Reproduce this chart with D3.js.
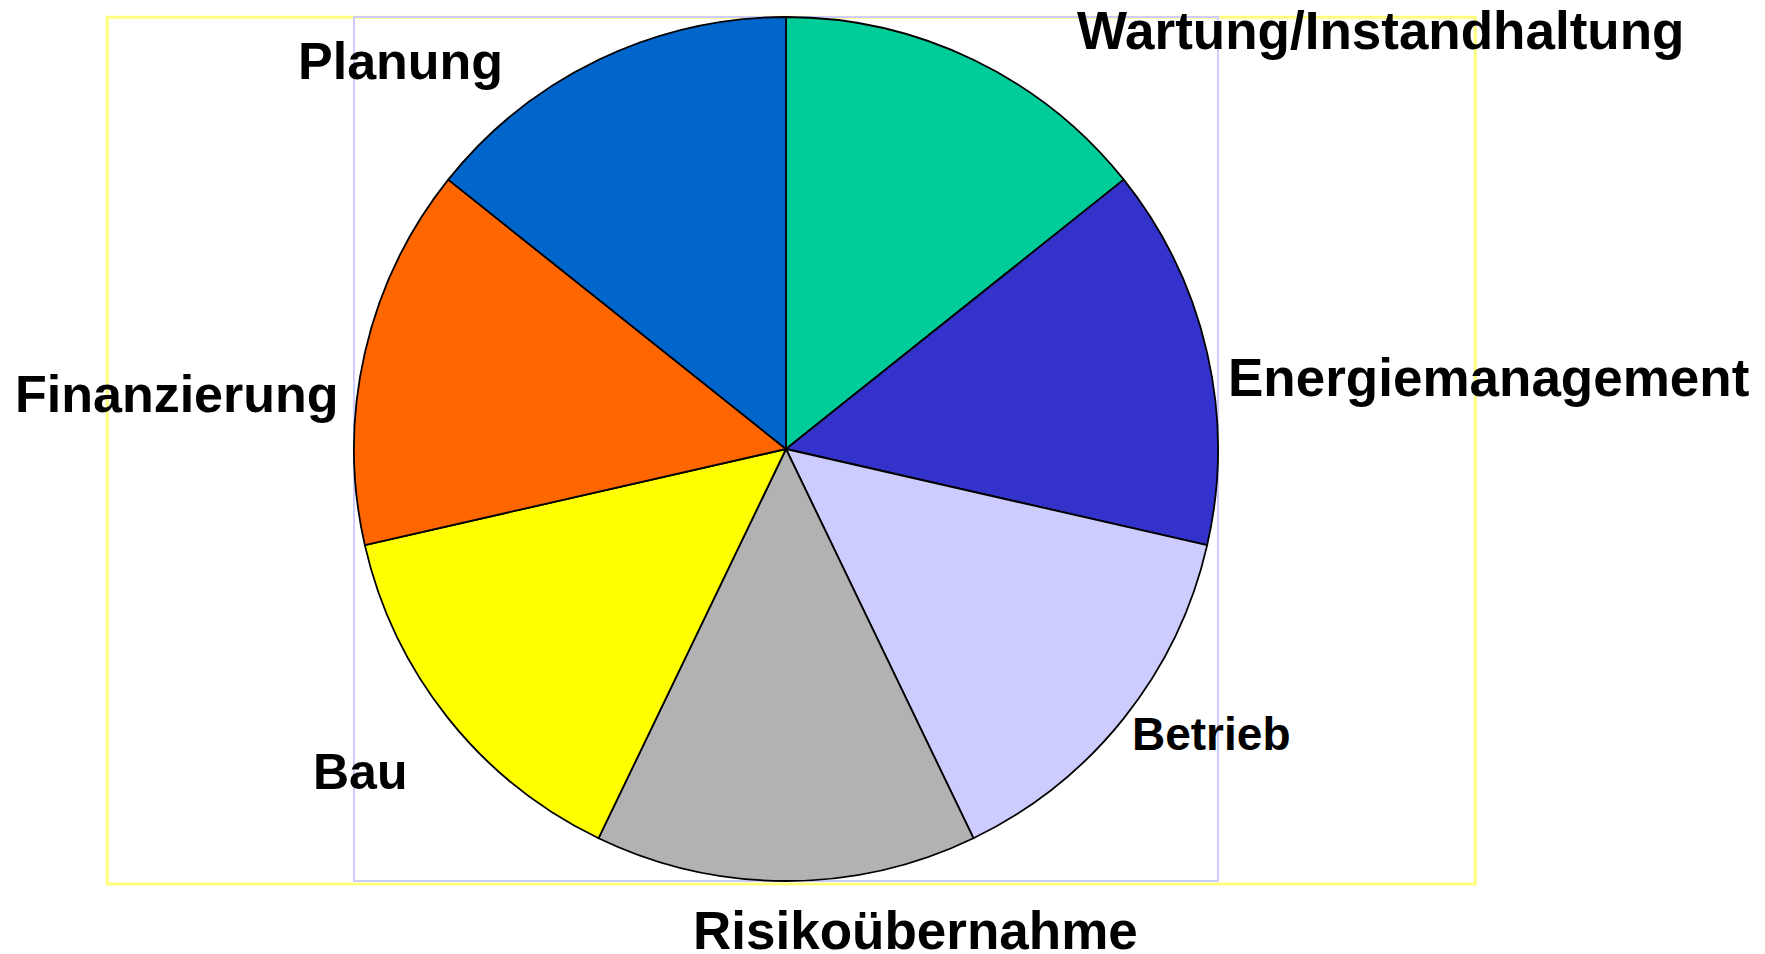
<!DOCTYPE html>
<html>
<head>
<meta charset="utf-8">
<script src="https://cdn.jsdelivr.net/npm/d3@7"></script>
<style>
  html, body { margin: 0; padding: 0; background: #ffffff; }
  svg { display: block; }
  text { font-family: "Liberation Sans", Arial, sans-serif; font-weight: bold; fill: #000; }
</style>
</head>
<body>
<svg id="chart" width="1765" height="954"></svg>
<script>
// ---- data ----
const categories = ["Wartung/Instandhaltung", "Energiemanagement", "Betrieb", "Risikoübernahme", "Bau", "Finanzierung", "Planung"];
const values = [1, 1, 1, 1, 1, 1, 1];
const colors = ["#00CC99", "#3333CC", "#CCCCFF", "#B2B2B2", "#FFFF00", "#FF6600", "#0066CC"];

// ---- layout (label anchors relative to pie centre, font sizes) ----
const labelDx = [291, 442, 346, -93, -473, -771, -488];
const labelDy = [-400, -53, 301, 500, 340, -37, -370];
const labelSize = [53, 53, 46, 53, 50, 52, 52];

const W = 1765, H = 954;
const cx = 786, cy = 449, R = 432;

const svg = d3.select("#chart");

// outer plot area (yellow) and pie area (light blue)
svg.append("rect")
  .attr("x", 107.3).attr("y", 17.3)
  .attr("width", 1475.3 - 107.3).attr("height", 884 - 17.3)
  .attr("fill", "none").attr("stroke", "#FFFF80").attr("stroke-width", 3);
svg.append("rect")
  .attr("x", cx - R).attr("y", cy - R)
  .attr("width", 2 * R).attr("height", 2 * R)
  .attr("fill", "none").attr("stroke", "#CCCCFF").attr("stroke-width", 2);

const pie = d3.pie().sort(null).value(d => d.value).startAngle(0).endAngle(2 * Math.PI);
const data = categories.map((c, i) => ({ name: c, value: values[i], color: colors[i], i }));
const arcs = pie(data);
const arc = d3.arc().innerRadius(0).outerRadius(R);

const g = svg.append("g").attr("transform", `translate(${cx},${cy})`);
g.selectAll("path.slice")
  .data(arcs)
  .join("path")
  .attr("class", "slice")
  .attr("d", arc)
  .attr("fill", d => d.data.color)
  .attr("stroke", "#000")
  .attr("stroke-width", 1.8)
  .attr("stroke-linejoin", "round");

g.selectAll("text.label")
  .data(arcs)
  .join("text")
  .attr("class", "label")
  .attr("x", d => labelDx[d.data.i])
  .attr("y", d => labelDy[d.data.i])
  .attr("text-anchor", "start")
  .style("font-size", d => labelSize[d.data.i] + "px")
  .text(d => d.data.name);
</script>
</body>
</html>
